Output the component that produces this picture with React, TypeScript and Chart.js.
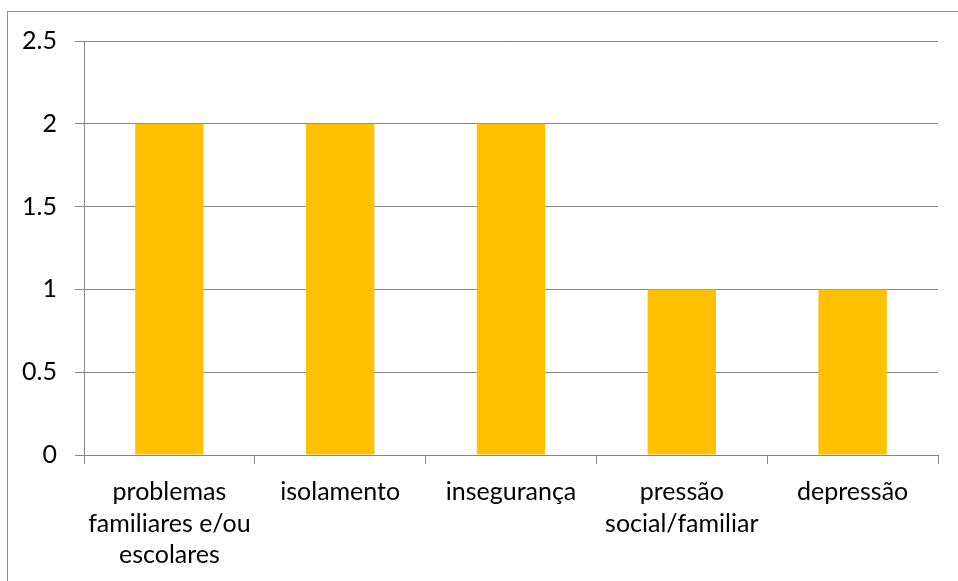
import React, { useEffect, useRef } from "react";
import { Chart, registerables } from "chart.js";

Chart.register(...registerables);

const categories: (string | string[])[] = [
  ["problemas", "familiares e/ou", "escolares"],
  "isolamento",
  "insegurança",
  ["pressão", "social/familiar"],
  "depressão",
];
const values: number[] = [2, 2, 2, 1, 1];
const yTicks: number[] = [0, 0.5, 1, 1.5, 2, 2.5];

const AXIS = "#868686";
const FONT = "Lato, 'Open Sans', sans-serif";

export default function App() {
  const ref = useRef<HTMLCanvasElement>(null);
  useEffect(() => {
    if (!ref.current) return;
    const chart = new Chart(ref.current, {
      type: "bar",
      data: {
        labels: categories,
        datasets: [
          {
            data: values,
            backgroundColor: "#FFC000",
            borderWidth: 0,
            barPercentage: 0.4,
            categoryPercentage: 1,
          },
        ],
      },
      options: {
        animation: false,
        responsive: false,
        maintainAspectRatio: false,
        layout: { padding: { left: 0, top: 41, right: 20, bottom: 0 } },
        plugins: { legend: { display: false }, tooltip: { enabled: false } },
        scales: {
          x: {
            offset: true,
            grid: {
              offset: true,
              drawOnChartArea: false,
              drawTicks: true,
              tickLength: 9,
              color: AXIS,
            },
            border: { color: AXIS, width: 1 },
            ticks: {
              color: "#000",
              padding: 12,
              maxRotation: 0,
              autoSkip: false,
              font: { family: FONT, size: 25, lineHeight: 1.27 },
            },
            afterFit: (s: any) => {
              s.height = 581 - 455;
            },
          },
          y: {
            min: 0,
            max: 2.5,
            afterBuildTicks: (s: any) => {
              s.ticks = yTicks.map((v) => ({ value: v }));
            },
            grid: { color: AXIS, tickLength: 9, lineWidth: 1 },
            border: { color: AXIS, width: 1 },
            ticks: {
              color: "#000",
              padding: 18,
              font: { family: FONT, size: 25 },
              callback: (v: any) => String(v),
            },
            afterFit: (s: any) => {
              s.width = 84;
            },
          },
        },
      },
    });
    return () => chart.destroy();
  }, []);
  return (
    <div style={{ position: "fixed", left: 0, top: 0, width: 958, height: 581, background: "#fff", overflow: "hidden" }}>
      <div
        style={{
          position: "absolute",
          left: 7,
          top: 11,
          width: 1000,
          height: 700,
          border: "1px solid #8c8c8c",
        }}
      />
      <canvas ref={ref} width={958} height={581} style={{ position: "absolute", left: 0, top: 0 }} />
    </div>
  );
}
